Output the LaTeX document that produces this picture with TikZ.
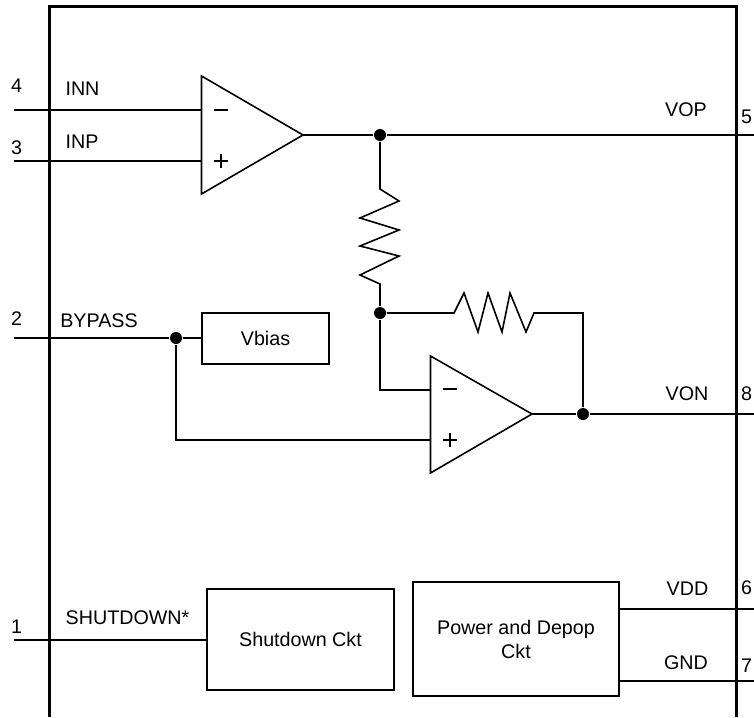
\documentclass[tikz,border=0pt]{standalone}
\usepackage{fontspec}
\setmainfont{Liberation Sans}
\begin{document}
\begin{tikzpicture}[x=1pt,y=-1pt,line width=1.6pt,
  lbl/.style={font=\fontsize{19.7}{24}\selectfont,inner sep=0pt,anchor=base},
  boxn/.style={draw,line width=1.6pt,align=center,font=\fontsize{19.7}{24}\selectfont,inner sep=0pt},
  dotn/.style={circle,fill=black,inner sep=0pt,minimum size=12pt},
  amp/.style={draw,line width=1.6pt,line join=miter}]
\useasboundingbox (0,0) rectangle (754,717);
% package outline
\draw[line width=3pt] (49,717) -- (49,7) -- (736,7) -- (736,717);
% pin ends
\coordinate (p4) at (14,110); \coordinate (p3) at (14,161);
\coordinate (p2) at (14,338); \coordinate (p1) at (14,640);
\coordinate (p5) at (754,135); \coordinate (p8) at (754,414);
\coordinate (p6) at (754,609); \coordinate (p7) at (754,681);
% amp 1
\coordinate (a1t) at (201.5,76); \coordinate (a1b) at (201.5,194); \coordinate (a1o) at (303,135);
\coordinate (a1m) at (201.5,110); \coordinate (a1p) at (201.5,161);
\draw[amp] (a1t) -- (a1o) -- (a1b) -- cycle;
\draw (p4) -- (a1m); \draw (p3) -- (a1p);
\draw (213.5,110) -- (228,110);
\draw (213.5,161) -- (228,161) (221,154) -- (221,168);
% amp 2
\coordinate (a2t) at (430.5,356); \coordinate (a2b) at (430.5,473); \coordinate (a2o) at (532,414);
\coordinate (a2m) at (430.5,390); \coordinate (a2p) at (430.5,440);
\draw[amp] (a2t) -- (a2o) -- (a2b) -- cycle;
\draw (443,389) -- (457,389);
\draw (443,440) -- (457,440) (450,433) -- (450,447);
% nodes
\node[dotn] (j1) at (380,135) {};
\node[dotn] (j2) at (380,313) {};
\node[dotn] (j3) at (176,338) {};
\node[dotn] (j4) at (583,414) {};
\node[boxn,minimum width=127pt,minimum height=51pt] (vb) at (265.5,338.5) {Vbias};
\node[boxn,minimum width=187pt,minimum height=101pt] (sd) at (300.5,639.5) {Shutdown Ckt};
\node[boxn,minimum width=206pt,minimum height=114pt] (pw) at (516,639) {Power and Depop\\Ckt};
% connections
\draw (a1o) -- (j1) -- (p5);
\draw (j1) -- (380,189) -- (399,201) -- (360,218) -- (399,230) -- (360,246) -- (399,256) -- (360,275) -- (380,284) -- (j2);
\draw (j2) -- (454,313) -- (464,293) -- (478,332) -- (488,293) -- (502,332) -- (510,293) -- (526,332) -- (534,313) -- (583,313) -- (j4);
\draw (j2) -- (380,390) -- (a2m);
\draw (a2o) -- (j4) -- (p8);
\draw (p2) -- (j3) -- (vb.west|-j3);
\draw (j3) -- (176,440) -- (a2p);
\draw (p1) -- (sd.west|-p1);
\draw (pw.east|-p6) -- (p6);
\draw (pw.east|-p7) -- (p7);
% labels
\node[lbl] (t4) at (16.5,92) {4};
\node[lbl] (t3) at (16.5,154) {3};
\node[lbl] (t2) at (16.5,325) {2};
\node[lbl] (t1) at (16.5,633) {1};
\node[lbl] (tinn) at (82.5,95) {INN};
\node[lbl] (tinp) at (82,148) {INP};
\node[lbl] (tbyp) at (99,327) {BYPASS};
\node[lbl] (tsd) at (127.5,624) {SHUTDOWN*};
\node[lbl] (tvop) at (686,116) {VOP};
\node[lbl] (t5) at (746.5,123) {5};
\node[lbl] (tvon) at (687,400) {VON};
\node[lbl] (t8) at (746.5,400) {8};
\node[lbl] (tvdd) at (687.5,595) {VDD};
\node[lbl] (t6) at (746.5,594) {6};
\node[lbl] (tgnd) at (686,669) {GND};
\node[lbl] (t7) at (746.5,672) {7};
\end{tikzpicture}
\end{document}
